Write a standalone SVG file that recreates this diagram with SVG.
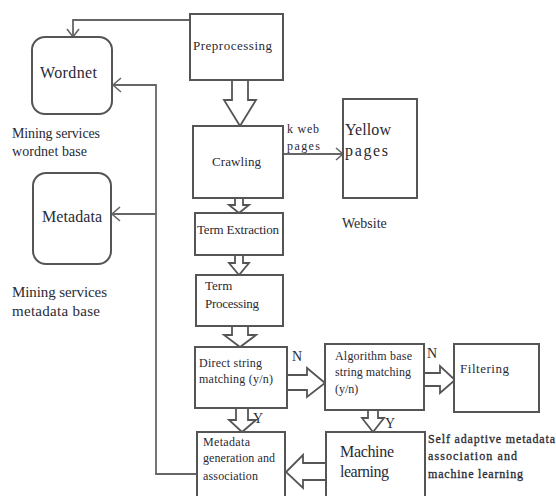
<svg xmlns="http://www.w3.org/2000/svg" width="556" height="496" viewBox="0 0 556 496" font-family="Liberation Serif, serif">
<style>
.box{fill:#fff;stroke:#555;stroke-width:2}
.fat{fill:#fff;stroke:#555;stroke-width:1.8}
.ln{fill:none;stroke:#666;stroke-width:1.8}
.ah{fill:none;stroke:#666;stroke-width:1.6}
.lbl{fill:#2a2a35}
</style>
<rect width="556" height="496" fill="#fff"/>
<g id="connectors">
<polyline class="ln" points="190,20 73,20 73,37"/>
<polyline class="ah" points="67,29 73,37 79,29"/>
<polyline class="ln" points="197,474 156,474 156,85 113,85"/>
<polyline class="ah" points="121,78 113,85 121,92"/>
<line class="ln" x1="156" y1="214" x2="112" y2="214"/>
<polyline class="ah" points="120,207 112,214 120,221"/>
<line class="ln" x1="283" y1="154" x2="343" y2="154" stroke="#444"/>
<polyline class="ah" points="336,148 343,154 336,160"/>
<path class="fat" d="M232,80 V100 H224 L240,126 L256,100 H248 V80"/>
<path class="fat" d="M235,198 V205 H229 L239,213 L249,205 H243 V198"/>
<path class="fat" d="M235,255 V263 H229 L239,275 L249,263 H243 V255"/>
<path class="fat" d="M232,326 V335 H224 L240,347 L256,335 H248 V326"/>
<path class="fat" d="M236,408 V420 H229 L242,432 L256,420 H248 V408"/>
<path class="fat" d="M368,410 V418 H362 L373,432 L384,418 H378 V410"/>
<path class="fat" d="M287,375 H307 V368 L325,383 L307,397 V390 H287"/>
<path class="fat" d="M424,373 H440 V366 L455,380 L440,393 V386 H424"/>
<path class="fat" d="M326,463 H303 V455 L286,472 L303,488 V480 H326"/>
</g>
<g class="lbl">
<g id="wordnet"><rect class="box" x="32" y="37" width="80" height="77" rx="13"/><text font-size="16" x="40" y="78" textLength="57">Wordnet</text></g>
<g id="wordnet-label" font-size="14"><text x="12" y="138" textLength="88">Mining services</text><text x="12" y="156" textLength="75">wordnet base</text></g>
<g id="metadata"><rect class="box" x="33" y="173" width="78" height="91" rx="13"/><text font-size="16" x="42" y="222" textLength="60">Metadata</text></g>
<g id="metadata-label" font-size="15"><text x="12" y="297" textLength="95">Mining services</text><text x="12" y="316" textLength="88">metadata base</text></g>
<g id="preprocessing"><rect class="box" x="190" y="14" width="93" height="66"/><text font-size="13" x="193" y="50" textLength="79">Preprocessing</text></g>
<g id="crawling"><rect class="box" x="193" y="126" width="90" height="72"/><text font-size="13" x="212" y="166" textLength="49">Crawling</text></g>
<g id="kweb" font-size="12"><text x="287" y="133" textLength="32">k web</text><text x="287" y="150" textLength="33">pages</text></g>
<g id="yellow"><rect class="box" x="343" y="99" width="74" height="99"/><text font-size="16" x="345" y="135" textLength="46">Yellow</text><text font-size="16" x="345" y="156" textLength="43">pages</text></g>
<g id="website"><text font-size="14" x="342" y="228">Website</text></g>
<g id="term-extraction"><rect class="box" x="195" y="213" width="88" height="42"/><text font-size="13" x="197" y="234" textLength="82">Term Extraction</text></g>
<g id="term-processing" font-size="13"><rect class="box" x="196" y="275" width="87" height="51"/><text x="205" y="290">Term</text><text x="205" y="308" textLength="54">Processing</text></g>
<g id="direct" font-size="12"><rect class="box" x="195" y="347" width="92" height="61"/><text x="199" y="367" textLength="63">Direct string</text><text x="199" y="383" textLength="74">matching (y/n)</text></g>
<g id="n1"><text font-size="14" x="292" y="361">N</text></g>
<g id="algorithm" font-size="12"><rect class="box" x="325" y="344" width="99" height="66"/><text x="335" y="360" textLength="77">Algorithm base</text><text x="335" y="376" textLength="76">string matching</text><text x="335" y="393">(y/n)</text></g>
<g id="n2"><text font-size="14" x="427" y="358">N</text></g>
<g id="filtering"><rect class="box" x="454" y="344" width="85" height="68"/><text font-size="13" x="460" y="373" textLength="49">Filtering</text></g>
<g id="y1"><text font-size="14" x="253" y="423">Y</text></g>
<g id="y2"><text font-size="14" x="385" y="428">Y</text></g>
<g id="metadata-gen" font-size="12"><rect class="box" x="197" y="432" width="88" height="70"/><text x="203" y="446" textLength="47">Metadata</text><text x="203" y="462" textLength="72">generation and</text><text x="203" y="480" textLength="55">association</text></g>
<g id="machine" font-size="16"><rect class="box" x="326" y="432" width="99" height="70"/><text x="340" y="457" textLength="54">Machine</text><text x="340" y="477" textLength="49">learning</text></g>
<g id="self-label" font-size="12" stroke="#2a2a35" stroke-width="0.3"><text x="428" y="443" textLength="127">Self adaptive metadata</text><text x="428" y="460" textLength="89">association and</text><text x="428" y="478" textLength="95">machine learning</text></g>
</g>
</svg>
